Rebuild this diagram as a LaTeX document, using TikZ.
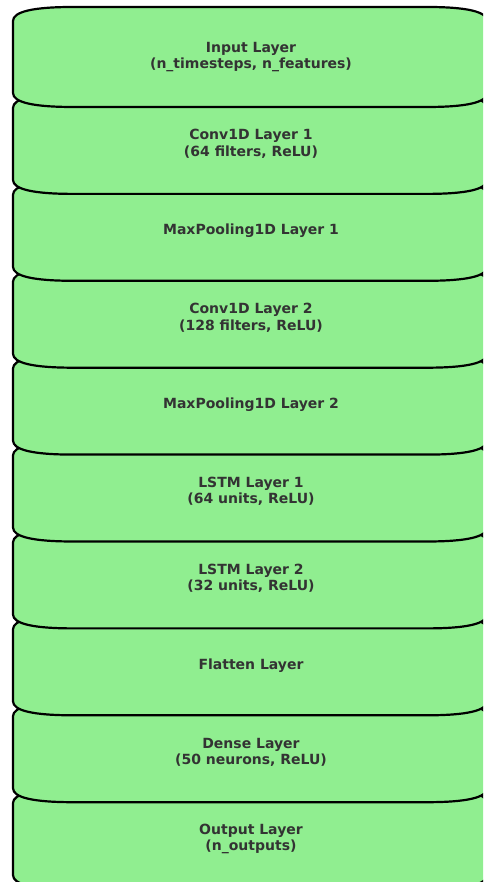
\documentclass[tikz,border=0pt]{standalone}
\usepackage{fontspec}
\setmainfont{DejaVu Sans}
\usepackage{tikz}
\definecolor{layergreen}{RGB}{144,238,144}
\definecolor{layerink}{RGB}{51,51,51}

\begin{document}
\begin{tikzpicture}[x=1pt,y=1pt,
		layerbox/.style={fill=layergreen,draw=black,line width=2.2pt,line join=round},
		layertext/.style={text=layerink,font=\fontsize{14}{16.5}\selectfont\bfseries,align=center}]
		\useasboundingbox (0,0) rectangle (483,882);
		\clip (0,0) rectangle (483,882);
		% stack drawn from the bottom up, so each upper box covers the one below
		\foreach \txt [count=\i from 0] in {{Output Layer\\(n\_outputs)},{Dense Layer\\(50 neurons, ReLU)},{Flatten Layer},{LSTM Layer 2\\(32 units, ReLU)},{LSTM Layer 1\\(64 units, ReLU)},{MaxPooling1D Layer 2},{Conv1D Layer 2\\(128 filters, ReLU)},{MaxPooling1D Layer 1},{Conv1D Layer 1\\(64 filters, ReLU)},{Input Layer\\(n\_timesteps, n\_features)}}
		{
			\pgfmathsetmacro{\T}{882-7-86.9*(9-\i)}
			\pgfmathsetmacro{\B}{\T-100}
			\draw[layerbox] (13,\B+14) -- (13,\T-14) .. controls (13,\T-4.67) and (33,\T) .. (73,\T)
				-- (427,\T) .. controls (467,\T) and (487,\T-4.67) .. (487,\T-14)
				-- (487,\B+14) .. controls (487,\B+4.67) and (467,\B) .. (427,\B)
				-- (73,\B) .. controls (33,\B) and (13,\B+4.67) .. (13,\B+14) -- cycle;
			\node[layertext] (layer\i) at (251,\T-50) {\txt};
		}
	\end{tikzpicture}
\end{document}
